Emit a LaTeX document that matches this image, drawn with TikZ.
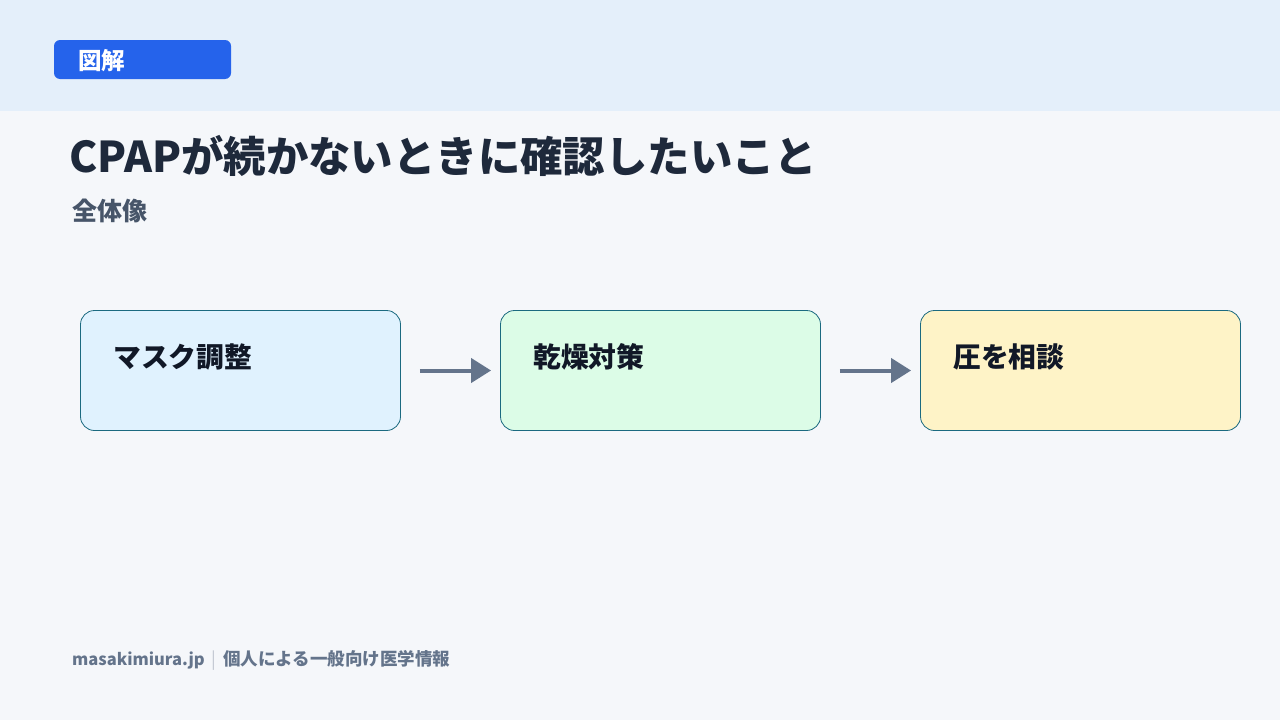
\documentclass[tikz,border=0pt]{standalone}
\usepackage{fontspec}
\setmainfont{Noto Sans CJK JP}
\usetikzlibrary{arrows.meta,positioning}
\definecolor{bandblue}{HTML}{E4EFFA}
\definecolor{pagebg}{HTML}{F5F7FA}
\definecolor{badgeblue}{HTML}{2563EB}
\definecolor{titleink}{HTML}{1E293B}
\definecolor{subink}{HTML}{475569}
\definecolor{footink}{HTML}{64748B}
\definecolor{boxline}{HTML}{1B6A80}
\definecolor{labelink}{HTML}{111827}
\definecolor{fillblue}{HTML}{E0F2FE}
\definecolor{fillgreen}{HTML}{DCFCE7}
\definecolor{fillyellow}{HTML}{FEF3C7}
\begin{document}
\begin{tikzpicture}[x=1pt,y=-1pt,
  stepbox/.style={draw=boxline,line width=0.8pt,rounded corners=14pt,minimum width=320pt,minimum height=120pt,inner sep=0pt},
  steptext/.style={anchor=west,inner sep=0pt,font=\bfseries\fontsize{27.8}{28}\selectfont,text=labelink},
  flow/.style={draw=footink,line width=4pt,-{Triangle[length=20pt,width=24pt]},shorten <=19pt,shorten >=9pt}]
\useasboundingbox (0,0) rectangle (1280,720);
\fill[pagebg] (0,0) rectangle (1280,720);
\fill[bandblue] (0,0) rectangle (1280,111);
\node[fill=badgeblue,rounded corners=6pt,minimum width=177pt,minimum height=39pt,inner sep=0pt] (badge) at (142.5,59.5) {};
\node[anchor=west,inner sep=0pt,text=white,font=\bfseries\fontsize{23.5}{24}\selectfont] (badgetext) at (78,61) {図解};
\node[anchor=base west,inner sep=0pt,text=titleink,font=\bfseries\fontsize{42.4}{43}\selectfont] (title) at (69,172) {CPAPが続かないときに確認したいこと};
\node[anchor=west,inner sep=0pt,text=subink,font=\bfseries\fontsize{25}{25}\selectfont] (subtitle) at (72,211) {全体像};
\node[stepbox,fill=fillblue] (mask) at (240.5,370.5) {};
\node[stepbox,fill=fillgreen] (dry) at (660.5,370.5) {};
\node[stepbox,fill=fillyellow] (press) at (1080.5,370.5) {};
\node[steptext] (masklabel) at ([xshift=33pt,yshift=-47pt]mask.north west) {マスク調整};
\node[steptext] (drylabel) at ([xshift=33pt,yshift=-47pt]dry.north west) {乾燥対策};
\node[steptext] (presslabel) at ([xshift=33pt,yshift=-47pt]press.north west) {圧を相談};
\draw[flow] (mask.east) -- (dry.west);
\draw[flow] (dry.east) -- (press.west);
\node[anchor=west,inner sep=0pt,text=footink,font=\bfseries\fontsize{17.5}{18}\selectfont] (footer) at (72,660) {{\fontsize{16.5}{18}\selectfont masakimiura.jp}\hspace{7pt}\textcolor{footink!40}{\mdseries|}\hspace{7pt}個人による一般向け医学情報};
\end{tikzpicture}
\end{document}
